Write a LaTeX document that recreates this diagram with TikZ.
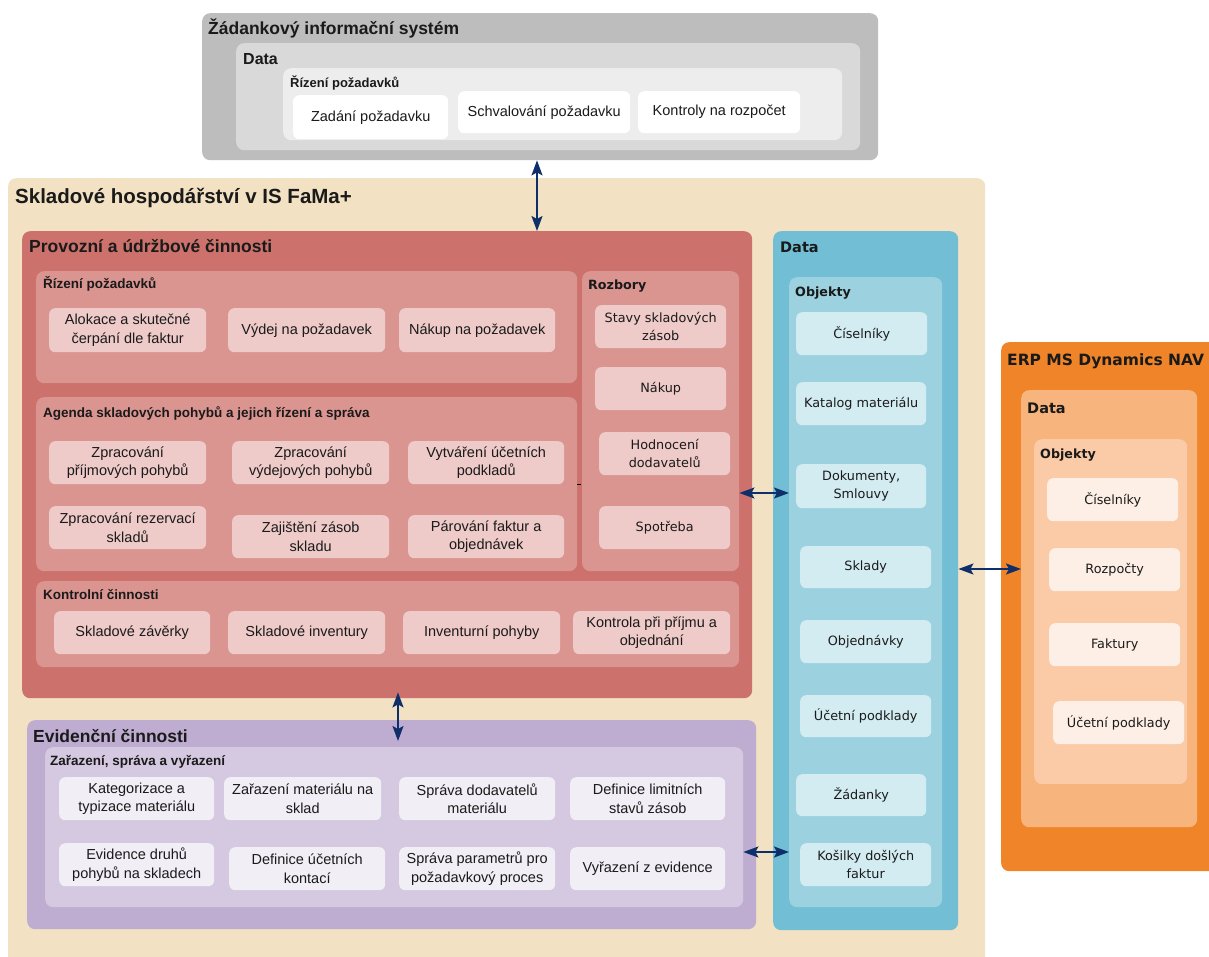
\documentclass[tikz,border=0pt]{standalone}
\usepackage{fontspec}
\setmainfont{Liberation Sans}
\newfontfamily\tah{DejaVu Sans}
\usetikzlibrary{arrows.meta}
\definecolor{gA}{HTML}{BDBDBD}
\definecolor{gB}{HTML}{D9D9D9}
\definecolor{gC}{HTML}{EDEDED}
\definecolor{beige}{HTML}{F2E1C2}
\definecolor{rA}{HTML}{CC716B}
\definecolor{rB}{HTML}{DB9591}
\definecolor{rC}{HTML}{EECAC8}
\definecolor{pA}{HTML}{BEADD1}
\definecolor{pB}{HTML}{D4C9E0}
\definecolor{pC}{HTML}{F1EEF5}
\definecolor{bA}{HTML}{72BED4}
\definecolor{bB}{HTML}{9CD1DF}
\definecolor{bC}{HTML}{D3ECF2}
\definecolor{oA}{HTML}{F08429}
\definecolor{oB}{HTML}{F7B47C}
\definecolor{oC}{HTML}{FACBA6}
\definecolor{oD}{HTML}{FDEFE5}
\definecolor{arrc}{HTML}{0F2F6B}
\definecolor{txt}{HTML}{1A1A1A}
\tikzset{
  area/.style={rounded corners=8pt, inner sep=0pt, draw=none},
  itembox/.style={rounded corners=6pt, inner sep=0pt, draw=none, align=center, text=txt,
    font={\fontsize{14.5}{18.5}\selectfont}},
  titem/.style={itembox, font={\tah\fontsize{12.8}{17.5}\selectfont}},
  bigtitle/.style={anchor=base west, inner sep=0pt, text=txt, font={\bfseries\fontsize{17.5}{20}\selectfont}},
  subtitle/.style={anchor=base west, inner sep=0pt, text=txt, font={\bfseries\fontsize{13.5}{16}\selectfont}},
  ttitle/.style={anchor=base west, inner sep=0pt, text=txt, font={\tah\bfseries\fontsize{12.7}{15}\selectfont}},
  tbig/.style={anchor=base west, inner sep=0pt, text=txt, font={\tah\bfseries\fontsize{14.5}{17}\selectfont}},
  arr/.style={draw=arrc, line width=1.7pt, {Stealth[length=15pt,width=11pt,inset=3pt]}-{Stealth[length=15pt,width=11pt,inset=3pt]}},
}
% #1 name, #2 style, #3 x1, #4 y1, #5 x2, #6 y2
\newcommand\mkbox[6]{\node[#2, minimum width={(#5-#3)*1pt}, minimum height={(#6-#4)*1pt}, anchor=north west] (#1) at (#3,#4) {};}
\newcommand\mkitem[7]{\node[#2, minimum width={(#5-#3)*1pt}, minimum height={(#6-#4)*1pt}, anchor=north west] (#1) at (#3,#4) {#7};}
\begin{document}
\begin{tikzpicture}[x=1pt,y=-1pt]
\useasboundingbox (0,0) rectangle (1209,957);
\clip (0,0) rectangle (1209,957);
\fill[white] (0,0) rectangle (1209,957);

% ---- Zadankovy informacni system
\mkbox{gz}{area, fill=gA}{202}{13}{878}{160}
\mkbox{gzd}{area, fill=gB}{236}{43}{860}{150}
\mkbox{gzr}{area, fill=gC}{283}{68}{842}{140}
\node[bigtitle] (tgz) at (208,34.5) {Žádankový informační systém};
\node[bigtitle, font={\bfseries\fontsize{16}{18}\selectfont}] (tgzd) at (243,65) {Data};
\node[subtitle, font={\bfseries\fontsize{13}{15}\selectfont}] (tgzr) at (290,88) {Řízení požadavků};
\mkitem{zad}{itembox, fill=white}{293}{95}{448}{139}{Zadání požadavku}
\mkitem{sch}{itembox, fill=white}{458}{91}{630}{133}{Schvalování požadavku}
\mkitem{kon}{itembox, fill=white}{638}{91}{800}{133}{Kontroly na rozpočet}

% ---- Skladove hospodarstvi
\mkbox{skl}{area, fill=beige}{8}{178}{985}{975}
\node[bigtitle, font={\bfseries\fontsize{20.5}{23}\selectfont}] (tskl) at (15,204) {Skladové hospodářství v IS FaMa+};

% ---- Provozni a udrzbove cinnosti
\mkbox{red}{area, fill=rA}{22}{231}{752}{698}
\node[bigtitle] (tred) at (29,253) {Provozní a údržbové činnosti};

\mkbox{rz}{area, fill=rB}{36}{271}{577}{383}
\node[subtitle] (trz) at (43,289) {Řízení požadavků};
\mkitem{alo}{itembox, fill=rC}{49}{308}{206}{352}{Alokace a skutečné\\čerpání dle faktur}
\mkitem{vyd}{itembox, fill=rC}{228}{308}{385}{352}{Výdej na požadavek}
\mkitem{nak}{itembox, fill=rC}{399}{308}{555}{352}{Nákup na požadavek}

\mkbox{ag}{area, fill=rB}{36}{397}{577}{571}
\node[subtitle] (tag) at (43,417) {Agenda skladových pohybů a jejich řízení a správa};
\mkitem{zp1}{itembox, fill=rC}{49}{441}{206}{484}{Zpracování\\příjmových pohybů}
\mkitem{zp2}{itembox, fill=rC}{232}{441}{389}{484}{Zpracování\\výdejových pohybů}
\mkitem{vyt}{itembox, fill=rC}{408}{441}{564}{484}{Vytváření účetních\\podkladů}
\mkitem{zpr}{itembox, fill=rC}{49}{506}{206}{549}{Zpracování rezervací\\skladů}
\mkitem{zaj}{itembox, fill=rC}{232}{515}{389}{558}{Zajištění zásob\\skladu}
\mkitem{par}{itembox, fill=rC}{408}{515}{564}{558}{Párování faktur a\\objednávek}

\mkbox{rozb}{area, fill=rB}{582}{271}{739}{571}
\node[ttitle] (trozb) at (588,290) {Rozbory};
\mkitem{sta}{titem, fill=rC}{595}{305}{726}{348}{Stavy skladových\\zásob}
\mkitem{rnak}{titem, fill=rC}{595}{367}{726}{410}{Nákup}
\mkitem{hod}{titem, fill=rC}{599}{432}{730}{475}{Hodnocení\\dodavatelů}
\mkitem{spo}{titem, fill=rC}{599}{506}{730}{549}{Spotřeba}

\mkbox{kc}{area, fill=rB}{36}{581}{739}{667}
\node[subtitle] (tkc) at (43,599) {Kontrolní činnosti};
\mkitem{szav}{itembox, fill=rC}{54}{611}{210}{654}{Skladové závěrky}
\mkitem{sinv}{itembox, fill=rC}{228}{611}{385}{654}{Skladové inventury}
\mkitem{inv}{itembox, fill=rC}{403}{611}{560}{654}{Inventurní pohyby}
\mkitem{kpp}{itembox, fill=rC}{573}{611}{730}{654}{Kontrola při příjmu a\\objednání}

\coordinate (dashy) at (0,484);
\draw[line width=0.8pt, black] (ag.east |- dashy) -- ++(4,0);

% ---- Evidencni cinnosti
\mkbox{ev}{area, fill=pA}{27}{720}{756}{929}
\node[bigtitle] (tev) at (33,742) {Evidenční činnosti};
\mkbox{zar}{area, fill=pB}{45}{747}{743}{907}
\node[subtitle] (tzar) at (50,765) {Zařazení, správa a vyřazení};
\mkitem{kat}{itembox, fill=pC}{59}{777}{214}{820}{Kategorizace a\\typizace materiálu}
\mkitem{zmat}{itembox, fill=pC}{224}{777}{381}{820}{Zařazení materiálu na\\sklad}
\mkitem{sdod}{itembox, fill=pC}{399}{777}{555}{820}{Správa dodavatelů\\materiálu}
\mkitem{dlim}{itembox, fill=pC}{570}{777}{725}{820}{Definice limitních\\stavů zásob}
\mkitem{evd}{itembox, fill=pC}{59}{843}{214}{886}{Evidence druhů\\pohybů na skladech}
\mkitem{duc}{itembox, fill=pC}{229}{847}{385}{890}{Definice účetních\\kontací}
\mkitem{spar}{itembox, fill=pC}{399}{847}{555}{890}{Správa parametrů pro\\požadavkový proces}
\mkitem{vyr}{itembox, fill=pC}{570}{847}{725}{890}{Vyřazení z evidence}

% ---- Data (blue)
\mkbox{data}{area, fill=bA}{773}{231}{958}{930}
\node[tbig] (tdata) at (780,253) {Data};
\mkbox{obj}{area, fill=bB}{789}{277}{942}{907}
\node[ttitle] (tobj) at (795,297) {Objekty};
\mkitem{cis}{titem, fill=bC}{796}{312}{927}{355}{Číselníky}
\mkitem{katm}{titem, fill=bC}{796}{382}{926}{425}{Katalog materiálu}
\mkitem{dok}{titem, fill=bC}{796}{464}{926}{508}{Dokumenty,\\Smlouvy}
\mkitem{skla}{titem, fill=bC}{800}{546}{931}{588}{Sklady}
\mkitem{obd}{titem, fill=bC}{800}{620}{931}{663}{Objednávky}
\mkitem{ucp}{titem, fill=bC}{800}{695}{931}{737}{Účetní podklady}
\mkitem{zadk}{titem, fill=bC}{796}{774}{926}{816}{Žádanky}
\mkitem{kos}{titem, fill=bC}{800}{843}{931}{886}{Košilky došlých\\faktur}

% ---- ERP
\mkbox{erp}{area, fill=oA}{1001}{342}{1240}{871}
\node[tbig, font={\tah\bfseries\fontsize{15.5}{18}\selectfont}] (terp) at (1007,365) {ERP MS Dynamics NAV};
\mkbox{erpd}{area, fill=oB}{1021}{390}{1197}{827}
\node[tbig] (terpd) at (1027,413) {Data};
\mkbox{erpo}{area, fill=oC}{1034}{439}{1187}{784}
\node[ttitle] (terpo) at (1040,458) {Objekty};
\mkitem{ecis}{titem, fill=oD}{1047}{478}{1178}{521}{Číselníky}
\mkitem{eroz}{titem, fill=oD}{1049}{548}{1180}{591}{Rozpočty}
\mkitem{efak}{titem, fill=oD}{1049}{623}{1180}{666}{Faktury}
\mkitem{eucp}{titem, fill=oD}{1053}{701}{1184}{744}{Účetní podklady}

% ---- connectors
\coordinate (ax1) at (537,0);
\coordinate (ax2) at (398,0);
\coordinate (ay1) at (0,493);
\coordinate (ay2) at (0,569);
\coordinate (ay3) at (0,852);
\draw[arr] (gz.south -| ax1) -- (red.north -| ax1);
\draw[arr] ([yshift=6pt]red.south -| ax2) -- ([yshift=6pt]zar.north -| ax2);
\draw[arr] (rozb.east |- ay1) -- (obj.west |- ay1);
\draw[arr] (data.east |- ay2) -- (erpd.west |- ay2);
\draw[arr] (zar.east |- ay3) -- (obj.west |- ay3);
\end{tikzpicture}
\end{document}
